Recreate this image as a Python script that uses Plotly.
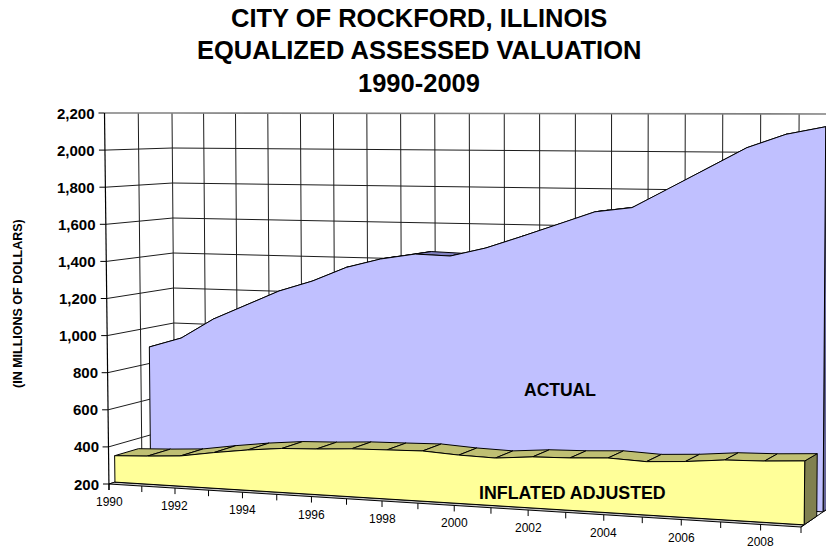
import plotly.graph_objects as go

# ---- data ----
years = list(range(1990, 2010))
actual = [892, 949, 1061, 1144, 1227, 1287, 1366, 1416, 1447, 1441,
          1488, 1553, 1620, 1689, 1714, 1817, 1923, 2028, 2097, 2136]
inflated = [343, 351, 362, 390, 414, 432, 439, 450, 454, 459,
            448, 443, 459, 464, 474, 466, 477, 495, 500, 511]
value_ticks = list(range(200, 2400, 200))
value_labels = [f"{v:,}" for v in value_ticks]
year_labels = {y: str(y) for y in years if y % 2 == 0 and y < 2009}
title_lines = ["CITY OF ROCKFORD, ILLINOIS", "EQUALIZED ASSESSED VALUATION", "1990-2009"]

V0, V1 = 200, 2200
N = len(years) - 1
FONT = "Liberation Sans, Arial, sans-serif"


def lerp(a, b, f):
    return a + (b - a) * f


def proj(year, v, d):
    """Oblique-perspective projection of (year, value, depth) to the page."""
    u = (year - years[0]) / N
    u = 0.896 * u / (1 - 0.104 * u)
    f = (v - V0) / (V1 - V0)
    xb = lerp(lerp(109, 175, d), lerp(801, 836, d), u)
    xt = lerp(lerp(104.5, 172, d), lerp(805, 838, d), u)
    yb = lerp(lerp(484, 463, d), lerp(527, 503, d), u)
    yt = lerp(113, 114, u)
    return lerp(xb, xt, f), lerp(yb, yt, f)


fig = go.Figure()


def poly(points, fill, line="#000000", width=1.0):
    xs, ys = zip(*points)
    fig.add_trace(go.Scatter(x=list(xs) + [xs[0]], y=list(ys) + [ys[0]], mode="lines",
                             fill="toself", fillcolor=fill,
                             line=dict(color=line, width=width),
                             hoverinfo="skip", showlegend=False))


def lines(segments, color="#000000", width=1.0):
    xs, ys = [], []
    for seg in segments:
        for p in seg:
            xs.append(p[0])
            ys.append(p[1])
        xs.append(None)
        ys.append(None)
    fig.add_trace(go.Scatter(x=xs, y=ys, mode="lines", line=dict(color=color, width=width),
                             hoverinfo="skip", showlegend=False))


# ---- walls ----
GRID = "#1c1c1c"
lines([[proj(years[0], v, 0), proj(years[0], v, 1), proj(years[-1], v, 1)] for v in value_ticks[:-1]],
      GRID, 1)
lines([[proj(y, V0, 1), proj(y, V1, 1)] for y in years], GRID, 1)
lines([[proj(years[0], V0, 0.5), proj(years[0], V1, 0.5)]], GRID, 1)
lines([[proj(years[0], V1, 0), proj(years[0], V1, 1), proj(years[-1], V1, 1)]], "#808080", 1.6)

# ---- floor front strip ----
poly([proj(years[0], V0, 0), proj(years[-1], V0, 0), proj(years[-1], V0, 0.09), proj(years[0], V0, 0.09)],
     "#c8c8c8", "#000000", 1)
lines([[proj(years[-1], V0, 0), proj(years[-1], V0, 1)]], "#000000", 1)

# ---- ACTUAL series ----
D_A0, D_A1 = 0.63, 0.93
poly([proj(years[-1], V0, D_A0), proj(years[-1], actual[-1], D_A0),
      proj(years[-1], actual[-1], D_A1), proj(years[-1], V0, D_A1)], "#666699")
for i in range(N):
    poly([proj(years[i], actual[i], D_A0), proj(years[i + 1], actual[i + 1], D_A0),
          proj(years[i + 1], actual[i + 1], D_A1), proj(years[i], actual[i], D_A1)], "#8080c0")
poly([proj(years[0], V0, D_A0)] + [proj(y, v, D_A0) for y, v in zip(years, actual)] + [proj(years[-1], V0, D_A0)],
     "#c0c0ff")

# ---- INFLATED ADJUSTED series ----
D_I0, D_I1 = 0.09, 0.45
poly([proj(years[-1], V0, D_I0), proj(years[-1], inflated[-1], D_I0),
      proj(years[-1], inflated[-1], D_I1), proj(years[-1], V0, D_I1)], "#808050")
for i in range(N):
    poly([proj(years[i], inflated[i], D_I0), proj(years[i + 1], inflated[i + 1], D_I0),
          proj(years[i + 1], inflated[i + 1], D_I1), proj(years[i], inflated[i], D_I1)], "#bfbf73")
poly([proj(years[0], V0, D_I0)] + [proj(y, v, D_I0) for y, v in zip(years, inflated)] + [proj(years[-1], V0, D_I0)],
     "#ffff99")

# ---- axes ----
lines([[proj(years[0], V1, 0), proj(years[0], V0, 0), (proj(years[0], V0, 0)[0], proj(years[0], V0, 0)[1] + 6)]],
      "#000000", 1.2)
ticks = []
for v in value_ticks:
    x, y = proj(years[0], v, 0)
    ticks.append([(x - 6, y), (x, y)])
for yr in years:
    x, y = proj(yr, V0, 0)
    ticks.append([(x, y), (x, y + 6)])
lines(ticks, "#000000", 1)

ann = []
for v, lab in zip(value_ticks, value_labels):
    x, y = proj(years[0], v, 0)
    ann.append(dict(x=x - 8, y=y, text=f"<b>{lab}</b>", xanchor="right", yanchor="middle",
                    showarrow=False, font=dict(size=15, color="#000000", family=FONT)))
for yr, lab in year_labels.items():
    x, y = proj(yr, V0, 0)
    ann.append(dict(x=x, y=y + 18, text=lab, xanchor="center", yanchor="middle",
                    showarrow=False, font=dict(size=12, color="#000000", family=FONT)))
for line_text, yy in zip(title_lines, [18, 50, 83]):
    ann.append(dict(x=419, y=yy, text=f"<b>{line_text}</b>", xanchor="center", yanchor="middle",
                    showarrow=False, font=dict(size=25.5, color="#000000", family=FONT)))
ann.append(dict(x=18, y=304, text="<b>(IN MILLIONS OF DOLLARS)</b>", textangle=-90, xanchor="center",
                yanchor="middle", showarrow=False, font=dict(size=12.5, color="#000000", family=FONT)))
ann.append(dict(x=560, y=390, text="<b>ACTUAL</b>", xanchor="center", yanchor="middle",
                showarrow=False, font=dict(size=17.5, color="#000000", family=FONT)))
ann.append(dict(x=572, y=493, text="<b>INFLATED ADJUSTED</b>", xanchor="center", yanchor="middle",
                showarrow=False, font=dict(size=17.8, color="#000000", family=FONT)))

fig.update_layout(
    width=826, height=548, margin=dict(l=0, r=0, t=0, b=0),
    paper_bgcolor="#ffffff", plot_bgcolor="#ffffff", showlegend=False,
    xaxis=dict(range=[0, 826], visible=False, fixedrange=True),
    yaxis=dict(range=[548, 0], visible=False, fixedrange=True),
    annotations=ann,
)
fig.write_html("out.html", post_script="document.body.style.margin='0';document.body.style.overflow='hidden';",
               config={"displayModeBar": False})
